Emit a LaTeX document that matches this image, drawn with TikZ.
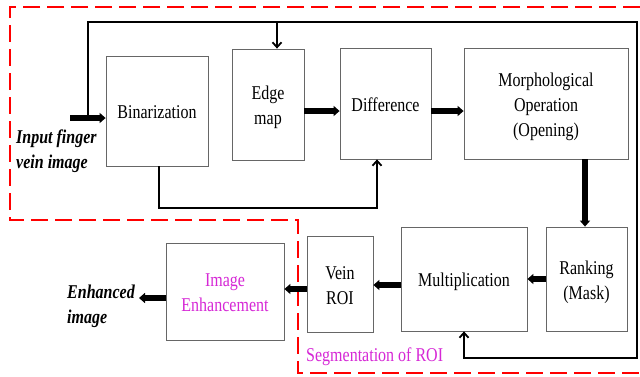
\documentclass[tikz,border=0pt]{standalone}
\usepackage{graphicx}
\usepackage{fontspec}
\setmainfont{Liberation Serif}
\usetikzlibrary{arrows.meta}
\definecolor{dashred}{RGB}{255,0,0}
\definecolor{mag}{RGB}{214,40,214}
\newcommand{\vs}[1]{\raisebox{0pt}[15pt][0pt]{\scalebox{1}[1.22]{#1}}}
\begin{document}
\begin{tikzpicture}[x=1pt,y=-1pt,
  box/.style={draw=black!60, line width=0.8pt, fill=white, inner sep=0pt,
    font=\fontsize{16}{25}\selectfont, align=center},
  fat/.style={line width=5.5pt, -{Triangle[length=6pt,width=10pt]}},
  conn/.style={line width=1.8pt, -{Straight Barb[length=5pt,width=9pt]}},
  reddash/.style={draw=dashred, line width=2.5pt, dash pattern=on 17pt off 7pt},
  lab/.style={font=\fontsize{16}{25}\selectfont\bfseries\itshape, align=left, inner sep=0pt}]
\useasboundingbox (0,0) rectangle (640,376);
\fill[white] (0,0) rectangle (640,376);

% red dashed region
\draw[reddash] (640,7) -- (10,7) -- (10,220) -- (298,220) -- (298,373) -- (640,373);

% boxes
\node[box, minimum width=102pt, minimum height=110pt] (bin) at (157,111) {\vs{Binarization}};
\node[box, minimum width=72pt, minimum height=111pt] (edge) at (268,104.5) {\vs{Edge}\\\vs{map}};
\node[box, minimum width=91pt, minimum height=111pt] (diff) at (385.5,103.5) {\vs{Difference}};
\node[box, minimum width=164pt, minimum height=111pt] (morph) at (546,103.5) {\vs{Morphological}\\\vs{Operation}\\\vs{(Opening)}};
\node[box, minimum width=81pt, minimum height=104pt] (rank) at (586.5,279) {\vs{Ranking}\\\vs{(Mask)}};
\node[box, minimum width=126pt, minimum height=104pt] (mult) at (464,279) {\vs{Multiplication}};
\node[box, minimum width=66pt, minimum height=96pt] (vein) at (340,284) {\vs{Vein}\\\vs{ROI}};
\node[box, minimum width=118pt, minimum height=97pt, text=mag] (enh) at (225,291.5) {\vs{Image}\\\vs{Enhancement}};

% labels
\node[lab, anchor=west] (inlab) at (16,148) {\vs{Input finger}\\\vs{vein image}};
\node[lab, anchor=west] (outlab) at (67,303) {\vs{Enhanced}\\\vs{image}};
\node[anchor=west, inner sep=0pt, text=mag, font=\fontsize{16}{25}\selectfont] (seglab) at (306,353.5) {\vs{Segmentation of ROI}};

% coordinates
\coordinate (in0) at (70,118);
\coordinate (fb0) at (88,118);
\coordinate (fbtl) at (88,22);
\coordinate (fbtr) at (637,22);
\coordinate (fbbr) at (637,358);
\coordinate (fbbl) at (464,358);
\coordinate (eb) at (277,22);
\coordinate (bb) at (159,208);
\coordinate (db) at (377,208);
\coordinate (out0) at (139,298);

% input arrow and feedback loop
\draw[fat] (in0) -- (bin.west |- in0);
\draw[conn] (fb0) -- (fbtl) -- (fbtr) -- (fbbr) -- (fbbl) -- (mult.south);
\draw[conn] (eb) -- (eb |- edge.north);
\draw[conn] (bb |- bin.south) -- (bb) -- (db) -- (db |- diff.south);

% thick arrows
\draw[fat] (edge.east |- 0,111) -- (diff.west |- 0,111);
\draw[fat] (diff.east |- 0,111) -- (morph.west |- 0,111);
\draw[fat] (585,0 |- morph.south) -- (585,0 |- rank.north);
\draw[fat] (rank.west |- 0,279) -- (mult.east |- 0,279);
\draw[fat] (mult.west |- 0,285) -- (vein.east |- 0,285);
\draw[fat] (vein.west |- 0,289) -- (enh.east |- 0,289);
\draw[fat] (enh.west |- out0) -- (out0);
\end{tikzpicture}
\end{document}
